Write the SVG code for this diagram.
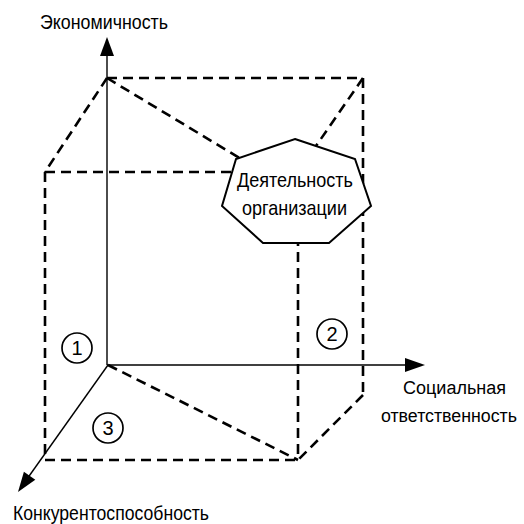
<svg xmlns="http://www.w3.org/2000/svg" width="524" height="524" viewBox="0 0 524 524">
<style>
.dash{fill:none;stroke:#000;stroke-width:2.6;stroke-dasharray:10 6}
.axis{fill:none;stroke:#000;stroke-width:1.4}
.head{fill:#000;stroke:none}
.lbl{font-family:"Liberation Sans",Arial,sans-serif;font-size:21px;fill:#000}
.lbs{font-family:"Liberation Sans",Arial,sans-serif;font-size:18px;fill:#000}
.num{font-family:"Liberation Sans",Arial,sans-serif;font-size:20px;fill:#000;text-anchor:middle}
.circ{fill:#fff;stroke:#000;stroke-width:1.7}
</style>
<rect width="524" height="524" fill="#fff"/>
<g id="connectors">
  <line class="dash" x1="107" y1="78" x2="363" y2="78"/>
  <line class="dash" x1="363" y1="78" x2="363" y2="395"/>
  <line class="dash" x1="363" y1="395" x2="298" y2="460"/>
  <line class="dash" x1="45" y1="460" x2="298" y2="460"/>
  <line class="dash" x1="45" y1="172" x2="45" y2="460"/>
  <line class="dash" x1="45" y1="172" x2="298" y2="172"/>
  <line class="dash" x1="298" y1="172" x2="298" y2="460"/>
  <line class="dash" x1="107" y1="78" x2="45" y2="172"/>
  <line class="dash" x1="363" y1="78" x2="298" y2="172"/>
  <line class="dash" x1="107" y1="78" x2="296" y2="192"/>
  <line class="dash" x1="108" y1="365" x2="298" y2="460"/>
  <line class="axis" x1="107" y1="365" x2="107" y2="52"/>
  <polygon class="head" points="107,37 100,56 114,56"/>
  <line class="axis" x1="107" y1="365" x2="410" y2="365"/>
  <polygon class="head" points="425,365 405,358 405,372"/>
  <line class="axis" x1="108" y1="365" x2="27" y2="479"/>
  <polygon class="head" points="18,492 23.9,471.7 35.3,479.7"/>
</g>
<g id="activity">
  <polygon points="295,139 355,159 371,206 329,243 263,243 222,206 236,159" fill="#fff" stroke="#000" stroke-width="2"/>
  <text class="lbl" x="237" y="187" textLength="116" lengthAdjust="spacingAndGlyphs">Деятельность</text>
  <text class="lbl" x="242" y="215" textLength="105" lengthAdjust="spacingAndGlyphs">организации</text>
</g>
<g id="axis-economy">
  <text class="lbl" x="40" y="29" textLength="128" lengthAdjust="spacingAndGlyphs">Экономичность</text>
</g>
<g id="axis-social">
  <text class="lbs" x="403" y="394" textLength="103" lengthAdjust="spacingAndGlyphs">Социальная</text>
  <text class="lbs" x="381" y="422" textLength="136" lengthAdjust="spacingAndGlyphs">ответственность</text>
</g>
<g id="axis-competition">
  <text class="lbl" x="13" y="520" textLength="196" lengthAdjust="spacingAndGlyphs">Конкурентоспособность</text>
</g>
<g id="zone-1">
  <circle class="circ" cx="77" cy="348" r="15"/>
  <text class="num" x="77" y="355">1</text>
</g>
<g id="zone-2">
  <circle class="circ" cx="332" cy="334" r="15"/>
  <text class="num" x="332" y="341">2</text>
</g>
<g id="zone-3">
  <circle class="circ" cx="108" cy="428" r="15"/>
  <text class="num" x="108" y="435">3</text>
</g>
</svg>
